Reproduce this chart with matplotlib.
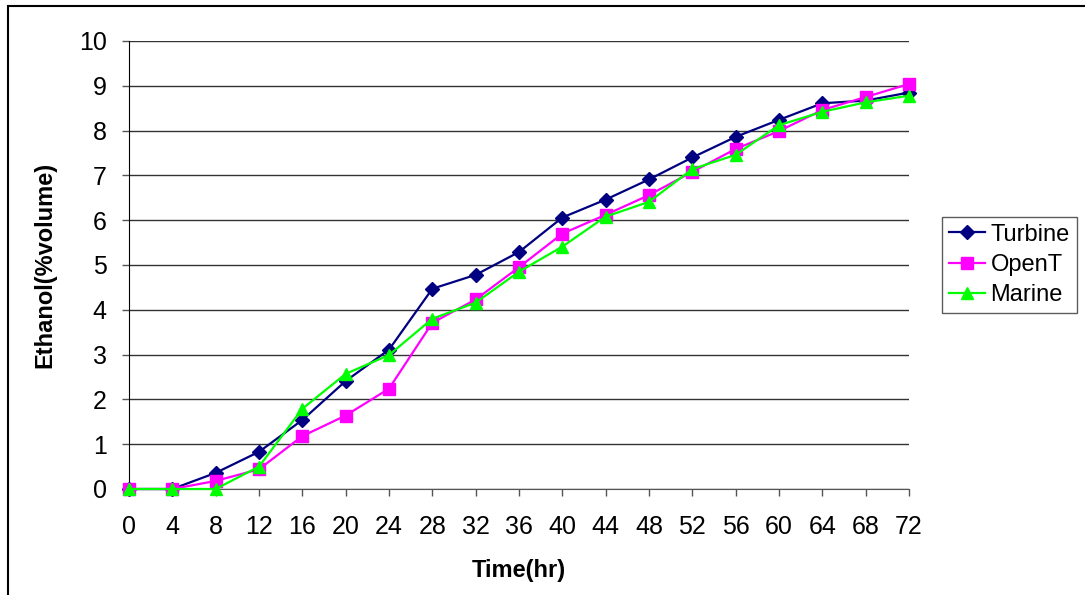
import matplotlib.pyplot as plt
from matplotlib.patches import Rectangle

# ── Data ────────────────────────────────────────────────────────────────
hours = [0, 4, 8, 12, 16, 20, 24, 28, 32, 36, 40, 44, 48, 52, 56, 60, 64, 68, 72]
turbine = [0, 0, 0.36, 0.83, 1.54, 2.41, 3.11, 4.47, 4.78, 5.29, 6.06, 6.46,
           6.91, 7.40, 7.86, 8.24, 8.61, 8.67, 8.85]
opent = [0, 0, 0.18, 0.44, 1.18, 1.64, 2.24, 3.71, 4.23, 4.95, 5.70, 6.12,
         6.56, 7.08, 7.59, 7.99, 8.46, 8.75, 9.04]
marine = [0, 0, 0, 0.50, 1.79, 2.57, 2.99, 3.80, 4.16, 4.85, 5.41, 6.08,
          6.41, 7.14, 7.46, 8.12, 8.42, 8.63, 8.78]

plt.rcParams['font.family'] = ['Liberation Sans', 'DejaVu Sans']

fig = plt.figure(figsize=(10.85, 5.95), dpi=100)
# axes box in pixels: x 129..909, y 41..489 (from top)
W, H = 1085, 595
ax = fig.add_axes([129 / W, 1 - 489 / H, 780 / W, 448 / H])

ax.plot(hours, turbine, color="#000080", marker="D", markersize=7,
        linewidth=1.6, label="Turbine", clip_on=False, zorder=3)
ax.plot(hours, opent, color="#FF00FF", marker="s", markersize=8,
        linewidth=1.6, label="OpenT", clip_on=False, zorder=3)
ax.plot(hours, marine, color="#00FF00", marker="^", markersize=9,
        linewidth=1.6, label="Marine", clip_on=False, zorder=4)

ax.set_xlim(0, 72)
ax.set_ylim(0, 10)
ax.set_xticks(range(0, 73, 4))
ax.set_yticks(range(0, 11))
ax.grid(axis="y", color="#333333", linewidth=1.0)
ax.set_axisbelow(True)
for s in ["top", "right"]:
    ax.spines[s].set_visible(False)
ax.spines["left"].set_color("black")
ax.spines["bottom"].set_color("#555555")
ax.tick_params(axis="both", direction="out", length=5, width=1,
               labelsize=18, color="#555555")
ax.tick_params(axis="x", pad=14)
ax.tick_params(axis="y", pad=11)

ax.set_xlabel("Time(hr)", fontsize=17, fontweight="bold", labelpad=14)
ax.set_ylabel("Ethanol(%volume)", fontsize=17, fontweight="bold", labelpad=16)

leg = ax.legend(loc="center left", bbox_to_anchor=(942 / W, 1 - 265 / H),
                bbox_transform=fig.transFigure, fontsize=17, frameon=True,
                fancybox=False, edgecolor="#333333", handlelength=1.5,
                handletextpad=0.25, borderpad=0.3, labelspacing=0.35,
                borderaxespad=0)
leg.get_frame().set_linewidth(1.0)

# outer chart frame (clipped at the right and bottom in the reference)
fig.patches.append(Rectangle((8 / W, -0.1), 1.2, 1 - 6 / H + 0.1,
                             transform=fig.transFigure, fill=False,
                             edgecolor="black", linewidth=1.5))

plt.savefig("out.png", dpi=100)
plt.close()
